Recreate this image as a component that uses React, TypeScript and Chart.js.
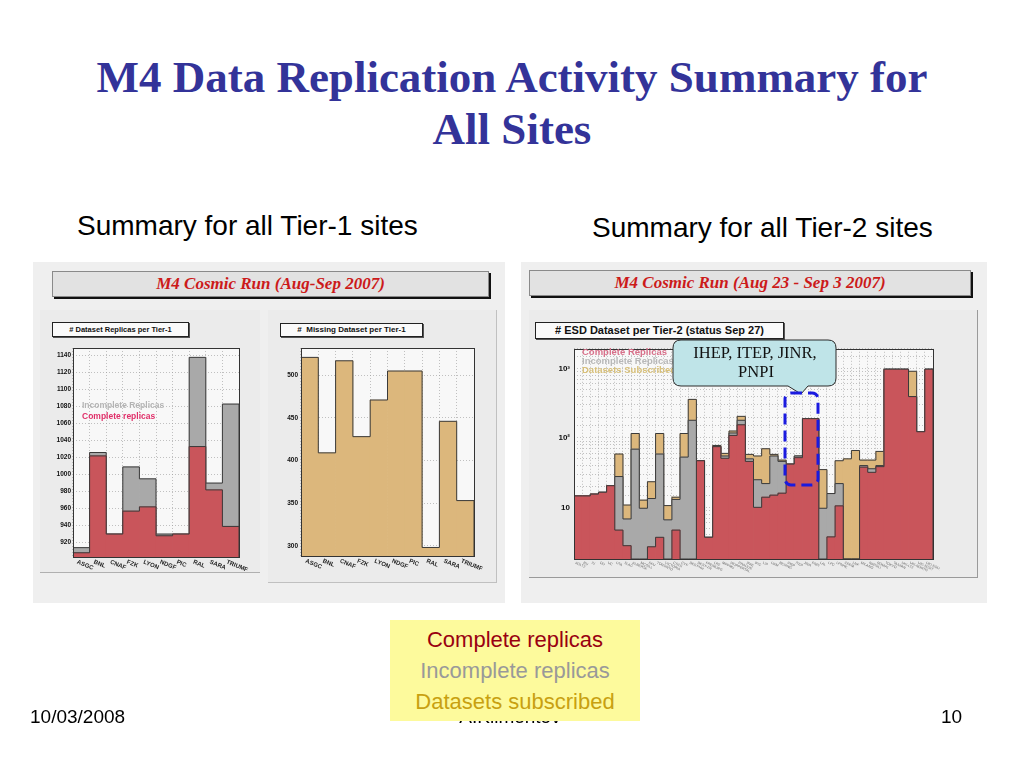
import React, { useEffect, useRef } from 'react';
import { Chart, registerables } from 'chart.js';

Chart.register(...registerables);

// ---------- Tier-1 data ----------
const tier1Sites = ['ASGC', 'BNL', 'CNAF', 'FZK', 'LYON', 'NDGF', 'PIC', 'RAL', 'SARA', 'TRIUMF'];
const tier1Complete = [908, 1022, 930, 957, 962, 928, 930, 1033, 982, 939];
const tier1WithIncomplete = [914, 1026, 930, 1009, 995, 930, 930, 1138, 990, 1083];
const tier1Missing = [521, 409, 517, 428, 471, 505, 505, 298, 446, 353];

// ---------- Tier-2 data ----------
const tier2Sites = [
  'AGLT2', 'BU', 'IU', 'OU', 'UC', 'UTA', 'SLAC', 'ALBERTA', 'MCGILL', 'SFU', 'TORONTO',
  'VICTORIA', 'CSCS', 'CYF', 'DESY-HH', 'DESY-ZN', 'FREIBURG', 'LRZ', 'MPPMU', 'WUPPERTAL',
  'PRAGUE', 'IFAE', 'IFIC', 'LIP', 'UAM', 'BEIJING', 'IHEP', 'ITEP', 'JINR', 'PNPI', 'LAL',
  'LPC', 'LPNHE', 'CPPM', 'LNF', 'MILANO', 'NAPOLI', 'ROMA1', 'TOKYO', 'TAIWAN', 'UKI-LT2',
  'UKI-NORTH', 'UKI-SCOT', 'UKI-SOUTH',
];
const tier2Subscribed = [
  14.6, 14.6, 15.5, 16.5, 20.5, 58.7, 10.8, 116, 12.7, 23.4, 116,
  10.6, 14, 116, 360, 47, 3.7, 78, 60, 126, 205,
  58, 55, 70, 58, 48, 42, 55, 190, 190, 35,
  15.8, 47, 50, 66, 48, 48, 64, 980, 980, 980,
  916, 123, 980,
];
const tier2Incomplete = [
  14.6, 14.6, 15.5, 16.5, 20.5, 27.8, 6.8, 69, 9.7, 13.4, 58.7,
  6.6, 13, 53, 180, 47, 3.7, 76, 55, 118, 180,
  50, 25, 22, 55, 46, 42, 55, 190, 190, 9.7,
  15.8, 22, null, null, 40, 36, 40, 980, 980, 980,
  395, 123, 980,
];
const tier2Complete = [
  14.6, 14.6, 15.5, 16.5, 20.5, 4.7, 2.8, null, null, 2.7, 3.7,
  null, 4.7, null, null, 47, 3.7, 75, 51, 109, 155,
  46, 10, 14, 15, 16, 42, 52, 190, 190, null,
  3.75, 10.5, null, null, 38, 32, 38.6, 980, 980, 980,
  395, 123, 980,
];

const RED = '#c9555b';
const GRAY = '#a9a9a9';
const TAN = '#dcb77c';

// ---------- plugins ----------
const areaBg = {
  id: 'areaBg',
  beforeDraw(chart: any) {
    const { ctx, chartArea: a } = chart;
    ctx.save();
    ctx.fillStyle = '#f8f8f8';
    ctx.fillRect(a.left, a.top, a.right - a.left, a.bottom - a.top);
    ctx.restore();
  },
};

const frame = {
  id: 'frame',
  afterDraw(chart: any) {
    const { ctx, chartArea: a } = chart;
    ctx.save();
    ctx.strokeStyle = '#333';
    ctx.lineWidth = 1;
    ctx.strokeRect(Math.round(a.left) + 0.5, Math.round(a.top) + 0.5, Math.round(a.right - a.left), Math.round(a.bottom - a.top));
    ctx.restore();
  },
};

const histOutline = {
  id: 'histOutline',
  afterDatasetDraw(chart: any, args: any) {
    const { ctx, chartArea: a } = chart;
    const ds = chart.data.datasets[args.index];
    const xs = chart.scales.x;
    const ys = chart.scales.y;
    const n = ds.data.length;
    const bw = (xs.right - xs.left) / n;
    ctx.save();
    ctx.beginPath();
    ctx.rect(a.left, a.top, a.right - a.left, a.bottom - a.top);
    ctx.clip();
    ctx.beginPath();
    for (let i = 0; i < n; i++) {
      const v = ds.data[i];
      const l = xs.left + i * bw;
      const r = l + bw;
      const top = v == null || v <= ys.min ? a.bottom : Math.max(a.top, ys.getPixelForValue(v));
      if (i === 0) ctx.moveTo(l, a.bottom);
      ctx.lineTo(l, top);
      ctx.lineTo(r, top);
      if (i === n - 1) ctx.lineTo(r, a.bottom);
    }
    ctx.strokeStyle = '#3a3a3a';
    ctx.lineWidth = 1;
    ctx.stroke();
    ctx.restore();
  },
};

const slantLabels = {
  id: 'slantLabels',
  afterDraw(chart: any, _args: any, opts: any) {
    const { ctx, chartArea: a } = chart;
    const xs = chart.scales.x;
    const labels = chart.data.labels as string[];
    ctx.save();
    ctx.font = opts.font;
    ctx.fillStyle = opts.color;
    ctx.textAlign = 'left';
    ctx.textBaseline = 'top';
    labels.forEach((lab, i) => {
      const x = xs.getPixelForValue(i);
      ctx.save();
      ctx.translate(x + opts.dx, a.bottom + opts.dy);
      ctx.rotate((opts.angle * Math.PI) / 180);
      ctx.fillText(lab, 0, 0);
      ctx.restore();
    });
    ctx.restore();
  },
};

const gridStyle = { color: '#9a9a9a', lineWidth: 0.6, drawTicks: false };
const borderStyle = { display: false, dash: [1, 2] };

function baseOptions(yWidth: number, xHeight: number, padTop: number, padRight: number, labelOpts: any) {
  return {
    responsive: false,
    animation: false,
    events: [],
    layout: { padding: { top: padTop, right: padRight, left: 0, bottom: 0 } },
    datasets: { bar: { barPercentage: 1, categoryPercentage: 1, grouped: false, borderWidth: 0 } },
    plugins: { legend: { display: false }, tooltip: { enabled: false }, slantLabels: labelOpts },
    scales: {
      x: {
        grid: gridStyle,
        border: borderStyle,
        ticks: { display: false },
        afterFit: (s: any) => { s.height = xHeight; },
      },
      y: {
        grid: gridStyle,
        border: borderStyle,
        afterFit: (s: any) => { s.width = yWidth; },
      } as any,
    },
  } as any;
}

function makeReplicas() {
  const o = baseOptions(29, 23, 8, 21, { font: 'bold 6px Arial', color: '#222', dx: -3, dy: 2, angle: 22 });
  o.scales.y = {
    ...o.scales.y,
    min: 903,
    max: 1149,
    ticks: {
      stepSize: 20, includeBounds: false, font: { family: 'Arial', size: 6.5, weight: 'bold' }, color: '#111', padding: 2,
      callback: (v: any) => String(v),
    },
  };
  return {
    type: 'bar',
    data: {
      labels: tier1Sites,
      datasets: [
        { label: 'Complete replicas', data: tier1Complete, backgroundColor: RED },
        { label: 'Incomplete Replicas', data: tier1WithIncomplete, backgroundColor: GRAY },
      ],
    },
    options: o,
    plugins: [areaBg, histOutline, slantLabels, frame],
  };
}

function makeMissing() {
  const o = baseOptions(29, 24, 8, 20, { font: 'bold 6px Arial', color: '#222', dx: -3, dy: 2, angle: 22 });
  o.scales.y = {
    ...o.scales.y,
    min: 288,
    max: 532,
    ticks: {
      stepSize: 50, includeBounds: false, font: { family: 'Arial', size: 6.5, weight: 'bold' }, color: '#111', padding: 3,
      callback: (v: any) => String(v),
    },
  };
  return {
    type: 'bar',
    data: {
      labels: tier1Sites,
      datasets: [{ label: 'Missing Dataset', data: tier1Missing, backgroundColor: TAN }],
    },
    options: o,
    plugins: [areaBg, histOutline, slantLabels, frame],
  };
}

function makeTier2() {
  const o = baseOptions(34, 26, 7, 7, { font: '3.5px Arial', color: '#666', dx: -2, dy: 2, angle: 25 });
  o.scales.y = {
    ...o.scales.y,
    type: 'logarithmic',
    min: 1.8,
    max: 1930,
    ticks: {
      autoSkip: false,
      font: { family: 'Arial', size: 8, weight: 'bold' },
      color: '#111',
      padding: 4,
      callback: (v: any) => {
        const l = Math.log10(Number(v));
        if (Math.abs(l - 1) < 1e-6) return '10';
        if (Math.abs(l - 2) < 1e-6) return '10²';
        if (Math.abs(l - 3) < 1e-6) return '10³';
        return '';
      },
    },
  };
  return {
    type: 'bar',
    data: {
      labels: tier2Sites,
      datasets: [
        { label: 'Complete Replicas', data: tier2Complete, backgroundColor: RED },
        { label: 'Incomplete Replicas', data: tier2Incomplete, backgroundColor: GRAY },
        { label: 'Datasets Subscribed', data: tier2Subscribed, backgroundColor: TAN },
      ],
    },
    options: o,
    plugins: [areaBg, histOutline, slantLabels, frame],
  };
}

type Box = { left: number; top: number; width: number; height: number };

function ChartBox({ box, make }: { box: Box; make: () => any }) {
  const ref = useRef<HTMLCanvasElement>(null);
  useEffect(() => {
    const chart = new Chart(ref.current as HTMLCanvasElement, make());
    return () => chart.destroy();
  }, []);
  return (
    <canvas
      ref={ref}
      width={box.width}
      height={box.height}
      style={{ position: 'absolute', left: box.left, top: box.top, width: box.width, height: box.height }}
    />
  );
}

const abs = (s: React.CSSProperties): React.CSSProperties => ({ position: 'absolute', ...s });

function Banner({ left, top, width, text }: { left: number; top: number; width: number; text: string }) {
  return (
    <div
      style={abs({
        left, top, width, height: 24, background: '#e2e2e2', border: '1px solid #8a8a8a',
        boxShadow: '2px 2px 0 #111', textAlign: 'center', color: '#cc1a1a',
        font: 'italic bold 17px "Liberation Serif", "Times New Roman", serif', lineHeight: '24px',
      })}
    >
      {text}
    </div>
  );
}

function TitleBox({ left, top, width, height, size, text }: { left: number; top: number; width: number; height: number; size: number; text: string }) {
  return (
    <div
      style={abs({
        left, top, width, height, background: '#fafafa', border: '1px solid #222',
        boxShadow: '1px 1px 0 #555', textAlign: 'center', whiteSpace: 'pre',
        font: `bold ${size}px Arial, "Liberation Sans", sans-serif`, lineHeight: `${height}px`, color: '#111',
      })}
    >
      {text}
    </div>
  );
}

export default function App() {
  const legendFont = 'bold 8.5px Arial, "Liberation Sans", sans-serif';
  const t2Legend = 'bold 9.5px Arial, "Liberation Sans", sans-serif';
  const footFont = '19px Arial, "Liberation Sans", sans-serif';
  const serif = '"Liberation Serif", "Times New Roman", serif';
  return (
    <div style={abs({ left: 0, top: 0, width: 1024, height: 768, background: '#fff', overflow: 'hidden', fontFamily: 'Arial, "Liberation Sans", sans-serif' })}>
      {/* slide title */}
      <div style={abs({ left: 0, top: 51, width: 1024, textAlign: 'center', color: '#333399', font: `bold 45px ${serif}`, lineHeight: '52px', whiteSpace: 'nowrap' })}>
        M4 Data Replication Activity Summary for
        <br />
        All Sites
      </div>
      <div style={abs({ left: 77, top: 210, font: '28px Arial, "Liberation Sans", sans-serif', lineHeight: '32px', color: '#000', whiteSpace: 'nowrap' })}>
        Summary for all Tier-1 sites
      </div>
      <div style={abs({ left: 592, top: 212, font: '28px Arial, "Liberation Sans", sans-serif', lineHeight: '32px', color: '#000', whiteSpace: 'nowrap' })}>
        Summary for all Tier-2 sites
      </div>

      {/* left panel */}
      <div style={abs({ left: 33, top: 262, width: 472, height: 341, background: '#efefef' })} />
      <div style={abs({ left: 40, top: 310, width: 220, height: 262, background: '#ebebeb', borderBottom: '1px solid #b0b0b0' })} />
      <div style={abs({ left: 268, top: 310, width: 228, height: 272, background: '#ebebeb', borderRight: '1px solid #c0c0c0', borderBottom: '1px solid #c0c0c0' })} />
      <Banner left={52} top={271} width={435} text="M4 Cosmic Run (Aug-Sep 2007)" />

      {/* right panel */}
      <div style={abs({ left: 521, top: 262, width: 466, height: 341, background: '#efefef' })} />
      <div style={abs({ left: 529, top: 310, width: 448, height: 267, background: '#ebebeb', borderRight: '1px solid #9a9a9a', borderBottom: '1px solid #9a9a9a' })} />
      <Banner left={529} top={270} width={440} text="M4 Cosmic Run (Aug 23 - Sep 3 2007)" />

      <ChartBox box={{ left: 44, top: 340, width: 216, height: 240 }} make={makeReplicas} />
      <ChartBox box={{ left: 272, top: 340, width: 222, height: 240 }} make={makeMissing} />
      <ChartBox box={{ left: 540, top: 340, width: 400, height: 245 }} make={makeTier2} />

      <TitleBox left={52} top={322} width={135} height={13} size={7.5} text="# Dataset Replicas per Tier-1" />
      <TitleBox left={280} top={323} width={141} height={12} size={8} text="#  Missing Dataset per Tier-1" />
      <TitleBox left={535} top={322} width={247} height={15} size={11} text="# ESD Dataset per Tier-2 (status Sep 27)" />

      {/* in-plot legends */}
      <div style={abs({ left: 82, top: 400, font: legendFont, color: '#b4b4b4', whiteSpace: 'nowrap' })}>Incomplete Replicas</div>
      <div style={abs({ left: 82, top: 411, font: legendFont, color: '#e0306a', whiteSpace: 'nowrap' })}>Complete replicas</div>
      <div style={abs({ left: 582, top: 346, font: t2Legend, color: '#d8708a', whiteSpace: 'nowrap' })}>Complete Replicas</div>
      <div style={abs({ left: 582, top: 355, font: t2Legend, color: '#b8b8b8', whiteSpace: 'nowrap' })}>Incomplete Replicas</div>
      <div style={abs({ left: 582, top: 364, font: t2Legend, color: '#d8c07a', whiteSpace: 'nowrap' })}>Datasets Subscribed</div>

      {/* callout + highlight */}
      <svg width={1024} height={768} style={abs({ left: 0, top: 0, pointerEvents: 'none' })}>
        <path
          d="M681,340 H828 Q836,340 836,348 V378 Q836,386 828,386 H808 L801,394 L788,386 H681 Q673,386 673,378 V348 Q673,340 681,340 Z"
          fill="#bfe4e8"
          stroke="#2a2a2a"
          strokeWidth={1}
        />
        <text x={755} y={358} textAnchor="middle" fontFamily={serif} fontSize={16.5} fill="#111">IHEP, ITEP, JINR,</text>
        <text x={756} y={377} textAnchor="middle" fontFamily={serif} fontSize={16.5} fill="#111">PNPI</text>
        <rect x={785} y={393} width={33} height={92} rx={6} fill="none" stroke="#1a1adf" strokeWidth={3} strokeDasharray="11 6" />
      </svg>

      {/* footer */}
      <div style={abs({ left: 30, top: 706, font: footFont, lineHeight: '22px', color: '#000' })}>10/03/2008</div>
      <div style={abs({ left: 400, top: 706, width: 220, textAlign: 'center', font: footFont, lineHeight: '22px', color: '#000' })}>A.Klimentov</div>
      <div style={abs({ left: 941, top: 706, font: footFont, lineHeight: '22px', color: '#000' })}>10</div>

      {/* colour key */}
      <div style={abs({ left: 390, top: 620, width: 250, height: 101, background: '#fdfa9c', textAlign: 'center', font: '22px Arial, "Liberation Sans", sans-serif', lineHeight: '31px', paddingTop: 4, boxSizing: 'border-box' })}>
        <div style={{ color: '#990011' }}>Complete replicas</div>
        <div style={{ color: '#999999' }}>Incomplete replicas</div>
        <div style={{ color: '#c8a010' }}>Datasets subscribed</div>
      </div>
    </div>
  );
}
